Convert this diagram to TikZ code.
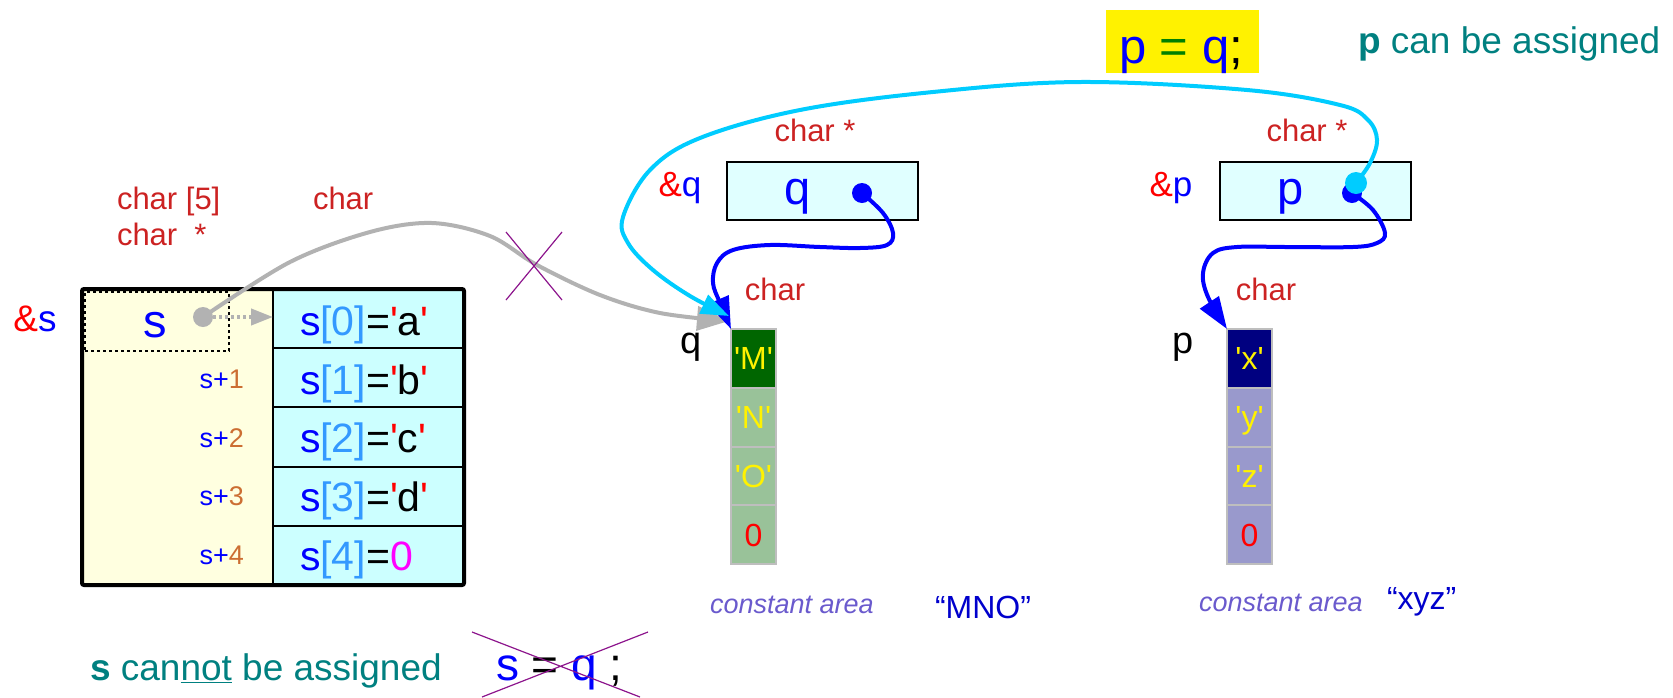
\documentclass[tikz,border=0pt]{standalone}
\usepackage{fontspec}
\setmainfont{Liberation Sans}[Ligatures=TeXOff]
\usetikzlibrary{arrows.meta}

\definecolor{typered}{RGB}{204,34,34}
\definecolor{addrred}{RGB}{255,0,0}
\definecolor{varblue}{RGB}{0,0,255}
\definecolor{idxblue}{RGB}{51,153,255}
\definecolor{offbrown}{RGB}{204,110,50}
\definecolor{zeromag}{RGB}{255,0,255}
\definecolor{noteteal}{RGB}{0,128,128}
\definecolor{eqgreen}{RGB}{0,128,0}
\definecolor{areaviolet}{RGB}{106,90,205}
\definecolor{strblue}{RGB}{0,0,204}
\definecolor{arrfill}{RGB}{255,255,224}
\definecolor{cellfill}{RGB}{204,255,255}
\definecolor{ptrfill}{RGB}{224,255,255}
\definecolor{mfirst}{RGB}{0,102,0}
\definecolor{mrest}{RGB}{153,194,153}
\definecolor{xfirst}{RGB}{0,0,128}
\definecolor{xrest}{RGB}{153,153,204}
\definecolor{cellline}{RGB}{190,190,190}
\definecolor{linkgray}{RGB}{178,178,178}
\definecolor{linkcyan}{RGB}{0,204,255}
\definecolor{crossviolet}{RGB}{140,20,140}

\newcommand\fsz[1]{\fontsize{#1}{#1}\selectfont}

\begin{document}
\begin{tikzpicture}[x=1pt,y=-1pt,
  every node/.style={inner sep=0pt,outer sep=0pt},
  typelbl/.style={text=typered,font=\fsz{31},anchor=base},
  elem/.style={draw=black,line width=2pt,fill=cellfill,minimum width=191pt,minimum height=59.2pt,anchor=north west},
  elemtxt/.style={font=\fsz{41},anchor=base west},
  offs/.style={font=\fsz{27},anchor=base east},
  ptrbox/.style={draw=black,line width=2pt,fill=ptrfill,minimum width=191pt,minimum height=58pt,anchor=north west},
  strcell/.style={draw=cellline,line width=2pt,minimum width=45pt,minimum height=58.75pt,anchor=north west,
    font=\fsz{32},text=yellow,text height=23pt,text depth=0pt},
  ptrdot/.style={circle,fill=varblue,minimum size=20pt},
  addr/.style={font=\fsz{35},anchor=base},
  bluelink/.style={draw=varblue,line width=4pt,-{Triangle[length=32pt,width=22pt]}},
  graylink/.style={draw=linkgray,line width=4pt,-{Triangle[length=32pt,width=24pt]}},
  cyanlink/.style={draw=linkcyan,line width=4pt,-{Triangle[length=28pt,width=20pt]}},
  crossout/.style={draw=crossviolet,line width=1.2pt},
  areatxt/.style={font=\fsz{27}\itshape,text=areaviolet,anchor=base west},
  strlit/.style={font=\fsz{32},text=strblue,anchor=base west},
  note/.style={font=\fsz{37},text=noteteal,anchor=base west}
]
\useasboundingbox (0,0) rectangle (1673,697);

% ---- the array s ----
\node[fill=arrfill,minimum width=382pt,minimum height=296pt,anchor=north west] (arr) at (82,289) {};
\foreach \k in {0,...,4} \node[elem] (e\k) at (273,289+59.2*\k) {};
\draw[line width=4pt,rounded corners=2pt] (arr.north west) rectangle (arr.south east);

\node[elemtxt] (t0) at (300,335) {\textcolor{varblue}{s}\textcolor{idxblue}{[0]}=\textcolor{addrred}{'}a\textcolor{addrred}{'}};
\node[elemtxt] (t1) at (300,394) {\textcolor{varblue}{s}\textcolor{idxblue}{[1]}=\textcolor{addrred}{'}b\textcolor{addrred}{'}};
\node[elemtxt] (t2) at (300,452.5) {\textcolor{varblue}{s}\textcolor{idxblue}{[2]}=\textcolor{addrred}{'}c\textcolor{addrred}{'}};
\node[elemtxt] (t3) at (300,511) {\textcolor{varblue}{s}\textcolor{idxblue}{[3]}=\textcolor{addrred}{'}d\textcolor{addrred}{'}};
\node[elemtxt] (t4) at (300,570) {\textcolor{varblue}{s}\textcolor{idxblue}{[4]}=\textcolor{zeromag}{0}};

\node[offs] (o1) at (244,388) {\textcolor{varblue}{s+}\textcolor{offbrown}{1}};
\node[offs] (o2) at (244,447) {\textcolor{varblue}{s+}\textcolor{offbrown}{2}};
\node[offs] (o3) at (244,505.5) {\textcolor{varblue}{s+}\textcolor{offbrown}{3}};
\node[offs] (o4) at (244,564) {\textcolor{varblue}{s+}\textcolor{offbrown}{4}};

\node[draw=black,dashed,dash pattern=on 3pt off 3pt,line width=1.5pt,minimum width=144pt,minimum height=59pt,anchor=north west] (sbox) at (85,292) {};
\node[font=\fsz{47},text=varblue] (sname) at (155,325) {s};
\node[addr,font=\fsz{37}] (saddr) at (35,331) {\textcolor{addrred}{\&}\textcolor{varblue}{s}};

\node[typelbl,anchor=base west] (sty1) at (117,209) {char [5]};
\node[typelbl,anchor=base west] (sty2) at (117,245) {char\hspace{17pt}*};
\node[typelbl,anchor=base west] (sty3) at (313,209) {char};

% ---- pointer q and its string ----
\node[ptrbox] (qbox) at (727,162) {};
\node[font=\fsz{47},text=varblue] (qname) at (798,197) {q};
\node[addr] (qaddr) at (680,196) {\textcolor{addrred}{\&}\textcolor{varblue}{q}};
\node[typelbl] (qty) at (815,141) {char *};
\node[typelbl] (qcty) at (775,300) {char};
\node[font=\fsz{38}] (qlbl) at (691,347) {q};

\node[strcell,fill=mfirst] (m0) at (731,329) {'M'};
\node[strcell,fill=mrest] (m1) at (731,387.75) {'N'};
\node[strcell,fill=mrest] (m2) at (731,446.5) {'O'};
\node[strcell,fill=mrest,text=red] (m3) at (731,505.25) {0};

\node[areatxt] (qarea) at (710,613) {constant area};
\node[strlit] (qlit) at (935,618) {“MNO”};

% ---- pointer p and its string ----
\node[ptrbox] (pbox) at (1220,162) {};
\node[font=\fsz{47},text=varblue] (pname) at (1291,197) {p};
\node[addr] (paddr) at (1171,196) {\textcolor{addrred}{\&}\textcolor{varblue}{p}};
\node[typelbl] (pty) at (1307,141) {char *};
\node[typelbl] (pcty) at (1266,300) {char};
\node[font=\fsz{38}] (plbl) at (1183,347) {p};

\node[strcell,fill=xfirst] (x0) at (1227,329) {'x'};
\node[strcell,fill=xrest] (x1) at (1227,387.75) {'y'};
\node[strcell,fill=xrest] (x2) at (1227,446.5) {'z'};
\node[strcell,fill=xrest,text=red] (x3) at (1227,505.25) {0};

\node[areatxt] (parea) at (1199,611) {constant area};
\node[strlit] (plit) at (1387,609) {“xyz”};

% ---- links ----
\coordinate (graytip) at (729,321);
\coordinate (cyantip) at (729,316);

\draw[graylink] plot[smooth,tension=0.55] coordinates {(203,317) (290,262) (370,232) (432,223) (490,236) (537,265) (600,295) (660,313) (graytip)};
\node[circle,fill=linkgray,minimum size=20pt] (sdot) at (203,317) {};
\draw[draw=linkgray,line width=4pt,dash pattern=on 3pt off 3pt,-{Triangle[length=22pt,width=16pt]}] (sdot) -- (e0.west |- sdot);

\draw[crossout] (506,232) -- (562,300) (562,232) -- (506,300);

\node[ptrdot] (qdot) at (862,193) {};
\draw[bluelink] plot[smooth,tension=0.6] coordinates {(qdot.center) (883,213) (893,233) (887,245) (860,248) (820,247) (770,245) (733,250) (717,263) (713,283) (720,303) (m0.north west)};

\node[ptrdot] (pdot) at (1352,193) {};
\draw[bluelink] plot[smooth,tension=0.6] coordinates {(pdot.center) (1373,210) (1385,233) (1377,243) (1353,247) (1287,247) (1237,247) (1213,253) (1203,273) (1208,297) (x0.north west)};

\draw[cyanlink] plot[smooth,tension=0.6] coordinates {(1356,183) (1370,163) (1377,140) (1368,120) (1340,105) (1247,90) (1080,82) (933,92) (800,110) (700,138) (650,170) (623,217) (628,243) (653,270) (690,296) (cyantip)};
\node[circle,fill=linkcyan,minimum size=22pt] (pcdot) at (1356,183) {};

% ---- assignments ----
\node[fill=yellow,minimum width=153pt,minimum height=63pt,anchor=north west] (assignbg) at (1106,10) {};
\node[font=\fsz{49},anchor=base west] (assign) at (1119,63) {\textcolor{varblue}{p} \textcolor{eqgreen}{=} \textcolor{varblue}{q};};
\node[note] (pnote) at (1358,53) {\textbf{p} can be assigned};

\node[note] (snote) at (90,680) {\textbf{s} can\underline{not} be assigned};
\node[font=\fsz{46},anchor=base west] (bad) at (496,680) {\textcolor{varblue}{s} = \textcolor{varblue}{q} ;};
\draw[crossout] (472,632) -- (640,697) (482,697) -- (648,632);
\end{tikzpicture}
\end{document}
